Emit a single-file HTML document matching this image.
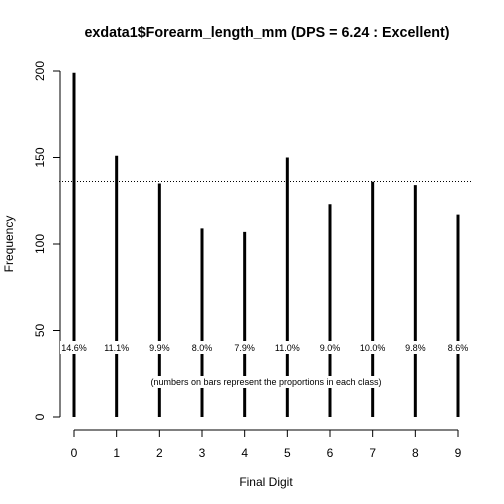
<!DOCTYPE html>
<html><head><style>body{margin:0;background:#fff}svg{display:block;font-family:"Liberation Sans",sans-serif}</style></head>
<body>
<svg id="c" width="504" height="504">
<text x="267" y="37" text-anchor="middle" font-size="14.3" font-weight="bold">exdata1$Forearm_length_mm (DPS = 6.24 : Excellent)</text>
<text x="266" y="486" text-anchor="middle" font-size="12">Final Digit</text>
<text transform="translate(13,244) rotate(-90)" text-anchor="middle" font-size="12">Frequency</text>
<g id="g"></g>
</svg>
<script>
const digits=[0,1,2,3,4,5,6,7,8,9];
const counts=[199,151,135,109,107,150,123,136,134,117];
const yTicks=[0,50,100,150,200];
const total=counts.reduce((a,b)=>a+b,0);
const mean=total/counts.length;
const xs=d=>74+d*(458-74)/9;
const ys=v=>417-v*(417-71)/200;
const NS="http://www.w3.org/2000/svg";
const g=document.getElementById('g');
function mk(t,a){const e=document.createElementNS(NS,t);for(const k in a)e.setAttribute(k,a[k]);g.appendChild(e);return e;}
let e=mk('line',{x1:60,x2:60,y1:ys(0),y2:ys(200),stroke:'#000'});


yTicks.forEach(t=>{
 let l=mk('line',{x1:53,x2:60,y1:ys(t),y2:ys(t),stroke:'#000'});
 
 
 let tx=mk('text',{transform:`translate(44,${ys(t)}) rotate(-90)`,'text-anchor':'middle','font-size':12});
 tx.textContent=t;
 
 
});
e=mk('line',{x1:xs(0),x2:xs(9),y1:430,y2:430,stroke:'#000'});


e=mk('line',{x1:59,x2:472,y1:ys(mean),y2:ys(mean),stroke:'#000','stroke-dasharray':'1,2'});


digits.forEach((d,i)=>{
 const x=xs(d);
 let l=mk('line',{x1:x,x2:x,y1:430,y2:437,stroke:'#000'});
 
 
 let tx=mk('text',{x:x,y:457,'text-anchor':'middle','font-size':12});
 tx.textContent=d;
 
 
 let b=mk('line',{x1:x,x2:x,y1:ys(0),y2:ys(counts[i]),stroke:'#000','stroke-width':3});
 
 
 let bg=mk('rect',{x:x-14,y:341,width:28,height:13,fill:'#fff'});
 
 
 let p=mk('text',{x:x,y:351,'text-anchor':'middle','font-size':9});
 p.textContent=(counts[i]/total*100).toFixed(1)+'%';
 
 
});
e=mk('rect',{x:150,y:376,width:232,height:12,fill:'#fff'});


e=mk('text',{x:266,y:385,'text-anchor':'middle','font-size':9});
e.textContent='(numbers on bars represent the proportions in each class)';


</script>
</body></html>
